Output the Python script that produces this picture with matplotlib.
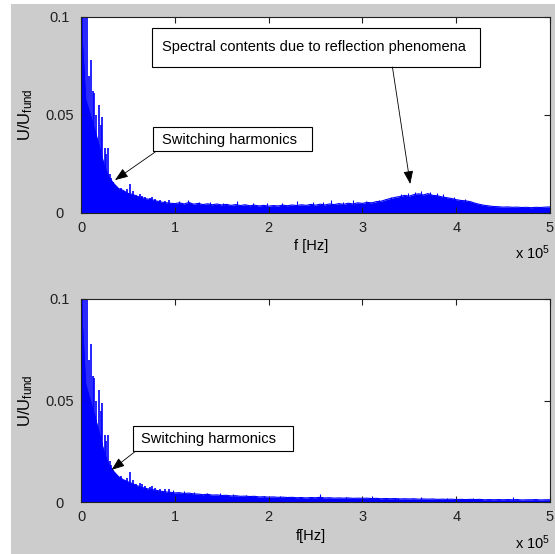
import matplotlib.pyplot as plt
import numpy as np
from matplotlib.patches import Rectangle

plt.rcParams['font.family'] = ['Liberation Sans', 'DejaVu Sans']
plt.rcParams['mathtext.default'] = 'regular'

# frequency bins of the noise floor [kHz]
f_khz = np.arange(0, 505, 5)

# upper edge of the noise floor, in 1e-3 * U/Ufund
floor_top = [100, 58, 50, 42, 33, 24, 18, 15, 12.5, 11.5, 10, 9.5, 8.5, 7.8, 7.2, 6.8, 6.2, 5.6, 5.3, 5.0,
             4.8, 5.2, 4.6, 5.4, 4.5, 4.9, 4.3, 4.7, 4.2, 4.6, 4.1, 4.4, 3.9, 4.3, 3.8, 4.2, 3.7, 4.0, 3.6, 3.9,
             3.5, 3.8, 3.6, 4.0, 3.7, 4.1, 3.8, 4.2, 3.9, 4.4, 4.0, 4.5, 4.1, 4.6, 4.3, 4.8, 4.4, 5.0, 4.6, 5.2,
             4.9, 5.4, 5.2, 5.8, 6.0, 6.8, 7.4, 8.0, 8.4, 9.0, 8.6, 9.4, 9.8, 9.2, 9.9, 9.0, 8.8, 8.2, 7.8, 7.4,
             6.8, 6.4, 6.2, 5.8, 5.0, 4.4, 3.9, 3.6, 3.3, 3.2, 3.0, 3.1, 2.9, 3.0, 2.8, 2.9, 2.7, 2.9, 2.8, 3.0,
             3.1]
floor_bot = [100, 58, 50, 42, 33, 24, 18, 15, 12.5, 11, 10, 9, 8, 7.2, 6.6, 6.2, 5.8, 5.3, 5.0, 4.8,
             4.5, 4.6, 4.2, 4.4, 4.0, 3.9, 3.6, 3.8, 3.4, 3.5, 3.2, 3.3, 3.0, 3.1, 2.8, 2.9, 2.7, 2.8, 2.5, 2.6,
             2.4, 2.5, 2.3, 2.4, 2.2, 2.3, 2.1, 2.2, 2.0, 2.2, 2.1, 2.3, 2.0, 2.1, 1.9, 2.0, 1.9, 2.0, 1.8, 1.9,
             1.8, 1.9, 1.7, 1.8, 1.6, 1.7, 1.6, 1.7, 1.5, 1.6, 1.5, 1.6, 1.4, 1.5, 1.4, 1.5, 1.3, 1.4, 1.3, 1.4,
             1.2, 1.3, 1.2, 1.3, 1.2, 1.3, 1.1, 1.2, 1.1, 1.2, 1.1, 1.2, 1.1, 1.2, 1.0, 1.1, 1.1, 1.2, 1.0, 1.1,
             1.1]

# switching harmonics, same in both spectra [kHz], [1e-3]
harm_khz = [0.5, 1.5, 2.5, 4.6, 6.4, 8.3, 10.3, 12.3, 13.9, 16.0, 18.9, 20.8, 22.4, 25.3, 26.7, 28.8,
            30.9, 32.3, 34.1, 35.9, 38.4, 40.5, 42.6, 45.8, 49.0, 51.9, 55.4, 58.6, 62.9, 65.5, 68.2,
            73.6, 76.0, 78.9, 84.0, 89.5, 94.0]
harm_val = [120, 120, 120, 120, 110, 70, 78, 62, 61, 50, 55, 45, 49, 33, 30, 33,
            20, 18, 16, 13, 12, 11, 13, 11, 12, 15, 11, 9, 9.5, 8.8, 8,
            7.5, 8.0, 7, 6.5, 6.2, 6.4]

# single lines sticking out of the floor
peaks_top_khz = [104, 114, 126, 137, 151, 166, 183, 198, 214, 230, 247, 258, 267, 279, 290, 304,
                 318, 331, 341, 349, 356, 363, 372, 379, 386, 398, 409]
peaks_top_val = [6.2, 6.6, 5.6, 5.6, 5.2, 6.0, 5.0, 5.0, 5.3, 6.0, 5.4, 5.6, 6.6, 5.8, 6.5, 6.0,
                 6.8, 8.4, 9.8, 10.0, 10.6, 11.2, 10.8, 10.4, 9.6, 8.4, 7.2]
peaks_bot_khz = [98, 110, 121, 134, 148, 162, 176, 195, 212, 233, 255, 282, 310, 338, 362, 390, 418, 461]
peaks_bot_val = [6.0, 5.6, 5.0, 4.6, 4.4, 3.9, 3.6, 3.2, 3.0, 2.7, 4.0, 2.5, 2.8, 2.2, 2.3, 1.9, 2.0, 2.5]

xticks = [0, 1, 2, 3, 4, 5]
yticks = [0, 0.05, 0.1]
ytick_labels = ['0', '0.05', '0.1']

blue = '#0000ff'


def draw(ax, floor, pk_khz, pk_val, xlabel):
    f = f_khz * 1e3
    env = np.array(floor) * 1e-3
    ax.fill_between(f, 0, env, color=blue, lw=0)
    ax.plot(f, env, color=blue, lw=0.8)
    ax.vlines(np.array(harm_khz) * 1e3, 0, np.array(harm_val) * 1e-3, color=blue, lw=1.2)
    ax.vlines(np.array(pk_khz) * 1e3, 0, np.array(pk_val) * 1e-3, color=blue, lw=0.8)
    ax.set_xlim(0, 5e5)
    ax.set_ylim(0, 0.1)
    ax.set_xticks([t * 1e5 for t in xticks])
    ax.set_xticklabels([str(t) for t in xticks])
    ax.set_yticks(yticks)
    ax.set_yticklabels(ytick_labels)
    ax.tick_params(direction='in', length=4, top=True, right=True, labelsize=10.5,
                   colors='#202020', width=0.8)
    ax.tick_params(axis='x', pad=6)
    ax.tick_params(axis='y', pad=15.5)
    for lbl in ax.get_yticklabels():
        lbl.set_horizontalalignment('center')
    for sp in ax.spines.values():
        sp.set_color('#202020')
        sp.set_linewidth(0.8)
    ax.set_xlabel(xlabel, fontsize=10.5)
    ax.xaxis.set_label_coords(0.49, -0.135)
    ax.set_ylabel('U/U$_{fund}$', fontsize=12)
    ax.yaxis.set_label_coords(-0.098, 0.5)
    ax.text(1.0, -0.2, 'x 10$^5$', transform=ax.transAxes, ha='right', va='center', fontsize=10.5)


def callout(ax, x0, x1, y0, y1, tx, ty, text, tail, head):
    ax.add_patch(Rectangle((x0, y0), x1 - x0, y1 - y0, facecolor='white', edgecolor='black',
                           lw=0.8, zorder=5))
    ax.text(tx, ty, text, ha='center', va='center', fontsize=10.5, zorder=6)
    ax.annotate('', xy=head, xytext=tail,
                arrowprops=dict(arrowstyle='-|>,head_length=0.8,head_width=0.3',
                                color='black', lw=0.6, shrinkA=0, shrinkB=0),
                zorder=6)


fig = plt.figure(figsize=(5.55, 5.54), dpi=100)
fig.patch.set_facecolor('white')
fig.patches.append(Rectangle((11 / 555, 0), 1, 1 - 4 / 554, transform=fig.transFigure,
                             facecolor='#cccccc', edgecolor='none', zorder=-10))

ax1 = fig.add_axes([81 / 555, 1 - 213 / 554, 469 / 555, 196 / 554])
draw(ax1, floor_top, peaks_top_khz, peaks_top_val, 'f [Hz]')
callout(ax1, 0.757e5, 4.254e5, 0.0745, 0.0944, 2.479e5, 0.0847,
        'Spectral contents due to reflection phenomena', (3.32e5, 0.0745), (3.51e5, 0.0148))
callout(ax1, 0.768e5, 2.463e5, 0.0316, 0.0439, 1.578e5, 0.0372,
        'Switching harmonics', (0.79e5, 0.0311), (0.362e5, 0.0168))

ax2 = fig.add_axes([81 / 555, 1 - 502 / 554, 469 / 555, 203 / 554])
draw(ax2, floor_bot, peaks_bot_khz, peaks_bot_val, 'f[Hz]')
callout(ax2, 0.554e5, 2.26e5, 0.0251, 0.0374, 1.36e5, 0.0308,
        'Switching harmonics', (0.57e5, 0.0246), (0.325e5, 0.0158))

fig.savefig('out.png', dpi=100)
